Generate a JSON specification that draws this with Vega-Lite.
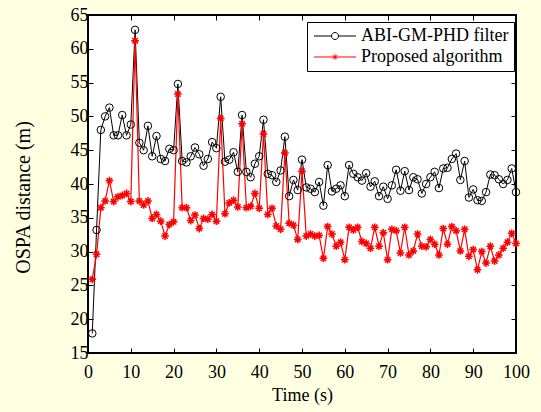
{
"$schema": "https://vega.github.io/schema/vega-lite/v6.json",
"width": 428, "height": 338,
"autosize": {"type": "none"},
"padding": {"left": 88, "top": 15, "right": 25, "bottom": 59},
"background": "#FFFFE2",
"config": {
  "view": {"fill": "white", "stroke": "black", "strokeWidth": 2},
  "font": "Liberation Serif",
  "axis": {"labelFont": "Liberation Serif", "labelFontSize": 18, "labelColor": "black", "titleFont": "Liberation Serif", "titleFontSize": 18, "titleFontWeight": "normal", "titleColor": "black", "grid": false, "domain": false, "tickColor": "black", "tickSize": -5, "tickWidth": 1, "labelFlush": false},
  "legend": {"labelFont": "Liberation Serif", "labelFontSize": 18, "labelColor": "black"}
},
"data": {"values": [
{"t":1,"s":"ABI-GM-PHD filter","v":17.9},{"t":2,"s":"ABI-GM-PHD filter","v":33.2},{"t":3,"s":"ABI-GM-PHD filter","v":48.0},{"t":4,"s":"ABI-GM-PHD filter","v":50.0},{"t":5,"s":"ABI-GM-PHD filter","v":51.3},{"t":6,"s":"ABI-GM-PHD filter","v":47.2},{"t":7,"s":"ABI-GM-PHD filter","v":47.2},{"t":8,"s":"ABI-GM-PHD filter","v":50.2},{"t":9,"s":"ABI-GM-PHD filter","v":47.2},{"t":10,"s":"ABI-GM-PHD filter","v":48.8},
{"t":11,"s":"ABI-GM-PHD filter","v":62.8},{"t":12,"s":"ABI-GM-PHD filter","v":46.1},{"t":13,"s":"ABI-GM-PHD filter","v":45.0},{"t":14,"s":"ABI-GM-PHD filter","v":48.6},{"t":15,"s":"ABI-GM-PHD filter","v":44.1},{"t":16,"s":"ABI-GM-PHD filter","v":47.1},{"t":17,"s":"ABI-GM-PHD filter","v":43.7},{"t":18,"s":"ABI-GM-PHD filter","v":43.4},{"t":19,"s":"ABI-GM-PHD filter","v":45.2},{"t":20,"s":"ABI-GM-PHD filter","v":45.0},
{"t":21,"s":"ABI-GM-PHD filter","v":54.8},{"t":22,"s":"ABI-GM-PHD filter","v":43.4},{"t":23,"s":"ABI-GM-PHD filter","v":43.2},{"t":24,"s":"ABI-GM-PHD filter","v":44.1},{"t":25,"s":"ABI-GM-PHD filter","v":45.4},{"t":26,"s":"ABI-GM-PHD filter","v":44.4},{"t":27,"s":"ABI-GM-PHD filter","v":42.7},{"t":28,"s":"ABI-GM-PHD filter","v":43.7},{"t":29,"s":"ABI-GM-PHD filter","v":46.2},{"t":30,"s":"ABI-GM-PHD filter","v":45.3},
{"t":31,"s":"ABI-GM-PHD filter","v":52.9},{"t":32,"s":"ABI-GM-PHD filter","v":43.3},{"t":33,"s":"ABI-GM-PHD filter","v":43.6},{"t":34,"s":"ABI-GM-PHD filter","v":44.7},{"t":35,"s":"ABI-GM-PHD filter","v":41.8},{"t":36,"s":"ABI-GM-PHD filter","v":50.2},{"t":37,"s":"ABI-GM-PHD filter","v":41.8},{"t":38,"s":"ABI-GM-PHD filter","v":41.0},{"t":39,"s":"ABI-GM-PHD filter","v":43.0},{"t":40,"s":"ABI-GM-PHD filter","v":44.1},
{"t":41,"s":"ABI-GM-PHD filter","v":49.5},{"t":42,"s":"ABI-GM-PHD filter","v":41.5},{"t":43,"s":"ABI-GM-PHD filter","v":41.3},{"t":44,"s":"ABI-GM-PHD filter","v":40.3},{"t":45,"s":"ABI-GM-PHD filter","v":42.0},{"t":46,"s":"ABI-GM-PHD filter","v":47.0},{"t":47,"s":"ABI-GM-PHD filter","v":38.2},{"t":48,"s":"ABI-GM-PHD filter","v":40.6},{"t":49,"s":"ABI-GM-PHD filter","v":39.1},{"t":50,"s":"ABI-GM-PHD filter","v":43.6},
{"t":51,"s":"ABI-GM-PHD filter","v":39.5},{"t":52,"s":"ABI-GM-PHD filter","v":39.3},{"t":53,"s":"ABI-GM-PHD filter","v":38.8},{"t":54,"s":"ABI-GM-PHD filter","v":40.3},{"t":55,"s":"ABI-GM-PHD filter","v":36.8},{"t":56,"s":"ABI-GM-PHD filter","v":42.8},{"t":57,"s":"ABI-GM-PHD filter","v":38.9},{"t":58,"s":"ABI-GM-PHD filter","v":39.3},{"t":59,"s":"ABI-GM-PHD filter","v":39.8},{"t":60,"s":"ABI-GM-PHD filter","v":38.2},
{"t":61,"s":"ABI-GM-PHD filter","v":42.8},{"t":62,"s":"ABI-GM-PHD filter","v":41.5},{"t":63,"s":"ABI-GM-PHD filter","v":41.0},{"t":64,"s":"ABI-GM-PHD filter","v":40.5},{"t":65,"s":"ABI-GM-PHD filter","v":41.6},{"t":66,"s":"ABI-GM-PHD filter","v":39.6},{"t":67,"s":"ABI-GM-PHD filter","v":40.4},{"t":68,"s":"ABI-GM-PHD filter","v":38.2},{"t":69,"s":"ABI-GM-PHD filter","v":39.6},{"t":70,"s":"ABI-GM-PHD filter","v":37.8},
{"t":71,"s":"ABI-GM-PHD filter","v":39.8},{"t":72,"s":"ABI-GM-PHD filter","v":42.1},{"t":73,"s":"ABI-GM-PHD filter","v":39.0},{"t":74,"s":"ABI-GM-PHD filter","v":41.9},{"t":75,"s":"ABI-GM-PHD filter","v":39.1},{"t":76,"s":"ABI-GM-PHD filter","v":41.0},{"t":77,"s":"ABI-GM-PHD filter","v":40.7},{"t":78,"s":"ABI-GM-PHD filter","v":38.6},{"t":79,"s":"ABI-GM-PHD filter","v":40.0},{"t":80,"s":"ABI-GM-PHD filter","v":41.0},
{"t":81,"s":"ABI-GM-PHD filter","v":41.8},{"t":82,"s":"ABI-GM-PHD filter","v":39.4},{"t":83,"s":"ABI-GM-PHD filter","v":42.3},{"t":84,"s":"ABI-GM-PHD filter","v":42.4},{"t":85,"s":"ABI-GM-PHD filter","v":43.7},{"t":86,"s":"ABI-GM-PHD filter","v":44.5},{"t":87,"s":"ABI-GM-PHD filter","v":40.6},{"t":88,"s":"ABI-GM-PHD filter","v":43.4},{"t":89,"s":"ABI-GM-PHD filter","v":38.0},{"t":90,"s":"ABI-GM-PHD filter","v":39.2},
{"t":91,"s":"ABI-GM-PHD filter","v":37.6},{"t":92,"s":"ABI-GM-PHD filter","v":37.5},{"t":93,"s":"ABI-GM-PHD filter","v":38.8},{"t":94,"s":"ABI-GM-PHD filter","v":41.4},{"t":95,"s":"ABI-GM-PHD filter","v":41.3},{"t":96,"s":"ABI-GM-PHD filter","v":40.7},{"t":97,"s":"ABI-GM-PHD filter","v":40.0},{"t":98,"s":"ABI-GM-PHD filter","v":40.6},{"t":99,"s":"ABI-GM-PHD filter","v":42.3},{"t":100,"s":"ABI-GM-PHD filter","v":38.8},
{"t":1,"s":"Proposed algorithm","v":25.9},{"t":2,"s":"Proposed algorithm","v":29.6},{"t":3,"s":"Proposed algorithm","v":36.5},{"t":4,"s":"Proposed algorithm","v":37.5},{"t":5,"s":"Proposed algorithm","v":40.5},{"t":6,"s":"Proposed algorithm","v":37.4},{"t":7,"s":"Proposed algorithm","v":38.1},{"t":8,"s":"Proposed algorithm","v":38.3},{"t":9,"s":"Proposed algorithm","v":38.6},{"t":10,"s":"Proposed algorithm","v":37.4},
{"t":11,"s":"Proposed algorithm","v":61.2},{"t":12,"s":"Proposed algorithm","v":37.5},{"t":13,"s":"Proposed algorithm","v":36.9},{"t":14,"s":"Proposed algorithm","v":37.5},{"t":15,"s":"Proposed algorithm","v":34.9},{"t":16,"s":"Proposed algorithm","v":35.5},{"t":17,"s":"Proposed algorithm","v":34.5},{"t":18,"s":"Proposed algorithm","v":32.3},{"t":19,"s":"Proposed algorithm","v":34.0},{"t":20,"s":"Proposed algorithm","v":34.4},
{"t":21,"s":"Proposed algorithm","v":53.3},{"t":22,"s":"Proposed algorithm","v":36.5},{"t":23,"s":"Proposed algorithm","v":36.5},{"t":24,"s":"Proposed algorithm","v":34.6},{"t":25,"s":"Proposed algorithm","v":35.4},{"t":26,"s":"Proposed algorithm","v":33.4},{"t":27,"s":"Proposed algorithm","v":34.9},{"t":28,"s":"Proposed algorithm","v":34.8},{"t":29,"s":"Proposed algorithm","v":35.5},{"t":30,"s":"Proposed algorithm","v":34.5},
{"t":31,"s":"Proposed algorithm","v":49.7},{"t":32,"s":"Proposed algorithm","v":35.6},{"t":33,"s":"Proposed algorithm","v":37.2},{"t":34,"s":"Proposed algorithm","v":37.6},{"t":35,"s":"Proposed algorithm","v":36.6},{"t":36,"s":"Proposed algorithm","v":48.9},{"t":37,"s":"Proposed algorithm","v":36.5},{"t":38,"s":"Proposed algorithm","v":36.7},{"t":39,"s":"Proposed algorithm","v":38.6},{"t":40,"s":"Proposed algorithm","v":36.4},
{"t":41,"s":"Proposed algorithm","v":47.4},{"t":42,"s":"Proposed algorithm","v":35.5},{"t":43,"s":"Proposed algorithm","v":36.4},{"t":44,"s":"Proposed algorithm","v":33.8},{"t":45,"s":"Proposed algorithm","v":33.3},{"t":46,"s":"Proposed algorithm","v":44.6},{"t":47,"s":"Proposed algorithm","v":34.2},{"t":48,"s":"Proposed algorithm","v":33.9},{"t":49,"s":"Proposed algorithm","v":31.8},{"t":50,"s":"Proposed algorithm","v":41.9},
{"t":51,"s":"Proposed algorithm","v":32.3},{"t":52,"s":"Proposed algorithm","v":32.6},{"t":53,"s":"Proposed algorithm","v":32.3},{"t":54,"s":"Proposed algorithm","v":32.4},{"t":55,"s":"Proposed algorithm","v":29.0},{"t":56,"s":"Proposed algorithm","v":33.7},{"t":57,"s":"Proposed algorithm","v":32.6},{"t":58,"s":"Proposed algorithm","v":30.8},{"t":59,"s":"Proposed algorithm","v":31.4},{"t":60,"s":"Proposed algorithm","v":28.8},
{"t":61,"s":"Proposed algorithm","v":33.6},{"t":62,"s":"Proposed algorithm","v":33.2},{"t":63,"s":"Proposed algorithm","v":33.6},{"t":64,"s":"Proposed algorithm","v":31.5},{"t":65,"s":"Proposed algorithm","v":31.2},{"t":66,"s":"Proposed algorithm","v":30.5},{"t":67,"s":"Proposed algorithm","v":33.6},{"t":68,"s":"Proposed algorithm","v":30.8},{"t":69,"s":"Proposed algorithm","v":32.8},{"t":70,"s":"Proposed algorithm","v":28.8},
{"t":71,"s":"Proposed algorithm","v":33.3},{"t":72,"s":"Proposed algorithm","v":33.1},{"t":73,"s":"Proposed algorithm","v":29.8},{"t":74,"s":"Proposed algorithm","v":33.6},{"t":75,"s":"Proposed algorithm","v":29.5},{"t":76,"s":"Proposed algorithm","v":30.1},{"t":77,"s":"Proposed algorithm","v":32.6},{"t":78,"s":"Proposed algorithm","v":30.8},{"t":79,"s":"Proposed algorithm","v":30.7},{"t":80,"s":"Proposed algorithm","v":31.8},
{"t":81,"s":"Proposed algorithm","v":31.1},{"t":82,"s":"Proposed algorithm","v":29.5},{"t":83,"s":"Proposed algorithm","v":33.4},{"t":84,"s":"Proposed algorithm","v":31.1},{"t":85,"s":"Proposed algorithm","v":33.7},{"t":86,"s":"Proposed algorithm","v":33.1},{"t":87,"s":"Proposed algorithm","v":30.1},{"t":88,"s":"Proposed algorithm","v":33.3},{"t":89,"s":"Proposed algorithm","v":29.3},{"t":90,"s":"Proposed algorithm","v":30.3},
{"t":91,"s":"Proposed algorithm","v":27.3},{"t":92,"s":"Proposed algorithm","v":30.0},{"t":93,"s":"Proposed algorithm","v":28.3},{"t":94,"s":"Proposed algorithm","v":30.8},{"t":95,"s":"Proposed algorithm","v":28.6},{"t":96,"s":"Proposed algorithm","v":29.5},{"t":97,"s":"Proposed algorithm","v":30.5},{"t":98,"s":"Proposed algorithm","v":31.4},{"t":99,"s":"Proposed algorithm","v":32.7},{"t":100,"s":"Proposed algorithm","v":31.2}
]},
"layer": [
  {"transform": [{"filter": "datum.s == 'ABI-GM-PHD filter'"}],
   "mark": {"type": "line", "color": "black", "strokeWidth": 1},
   "encoding": {
     "x": {"field": "t", "type": "quantitative", "scale": {"domain": [0, 100], "nice": false}, "axis": {"orient": "bottom", "values": [0,10,20,30,40,50,60,70,80,90,100], "title": "Time (s)", "labelPadding": 15, "titlePadding": 5}},
     "y": {"field": "v", "type": "quantitative", "scale": {"domain": [15, 65], "nice": false, "zero": false}, "axis": {"orient": "left", "values": [15,20,25,30,35,40,45,50,55,60,65], "title": "OSPA distance (m)", "titleFontSize": 20, "titleY": 182, "labelPadding": 5, "titlePadding": 37}}
   }},
  {"transform": [{"filter": "datum.s == 'Proposed algorithm'"}],
   "mark": {"type": "line", "color": "#ff0000", "strokeWidth": 1.2},
   "encoding": {
     "x": {"field": "t", "type": "quantitative", "axis": {"orient": "top", "values": [0,10,20,30,40,50,60,70,80,90,100], "labels": false, "title": null}},
     "y": {"field": "v", "type": "quantitative", "axis": {"orient": "right", "values": [15,20,25,30,35,40,45,50,55,60,65], "labels": false, "title": null}}
   }},
  {"transform": [{"filter": "datum.s == 'ABI-GM-PHD filter'"}],
   "mark": {"type": "point", "shape": "circle", "filled": false, "color": "black", "size": 57, "strokeWidth": 1, "opacity": 1},
   "encoding": {
     "x": {"field": "t", "type": "quantitative", "axis": null},
     "y": {"field": "v", "type": "quantitative", "axis": null}
   }},
  {"transform": [{"filter": "datum.s == 'Proposed algorithm'"}],
   "mark": {"type": "point", "shape": "M-1,0L1,0M0,-1L0,1M-0.7,-0.7L0.7,0.7M-0.7,0.7L0.7,-0.7", "filled": false, "color": "#ff0000", "size": 60, "strokeWidth": 1.5, "opacity": 1},
   "encoding": {
     "x": {"field": "t", "type": "quantitative", "axis": null},
     "y": {"field": "v", "type": "quantitative", "axis": null}
   }},
  {"mark": {"type": "point", "filled": false, "opacity": 0, "strokeWidth": 1},
   "encoding": {
     "x": {"field": "t", "type": "quantitative", "axis": null},
     "y": {"field": "v", "type": "quantitative", "axis": null},
     "color": {"field": "s", "type": "nominal", "scale": {"domain": ["ABI-GM-PHD filter", "Proposed algorithm"], "range": ["black", "#ff0000"]}, "legend": {"title": null, "orient": "none", "legendX": 219, "legendY": 7, "symbolSize": 196, "symbolOpacity": 1, "symbolStrokeWidth": 1, "labelOffset": 31, "padding": 5, "rowPadding": 3, "strokeColor": "black", "fillColor": "white", "labelFontSize": 18, "labelFont": "Liberation Serif"}},
     "shape": {"field": "s", "type": "nominal", "scale": {"domain": ["ABI-GM-PHD filter", "Proposed algorithm"], "range": ["M-1,0L1.5,0M2.5,0L5,0M1.5,0A0.5,0.5 0 1,1 2.5,0A0.5,0.5 0 1,1 1.5,0", "M-1,0L5,0M2,-0.4L2,0.4M1.65,-0.25L2.35,0.25M1.65,0.25L2.35,-0.25"]}, "legend": {"title": null, "orient": "none", "legendX": 219, "legendY": 7, "symbolSize": 196, "symbolOpacity": 1, "symbolStrokeWidth": 1, "labelOffset": 31, "padding": 5, "rowPadding": 3, "strokeColor": "black", "fillColor": "white", "labelFontSize": 18, "labelFont": "Liberation Serif"}}
   }}
],
"resolve": {"axis": {"x": "independent", "y": "independent"}}
}
